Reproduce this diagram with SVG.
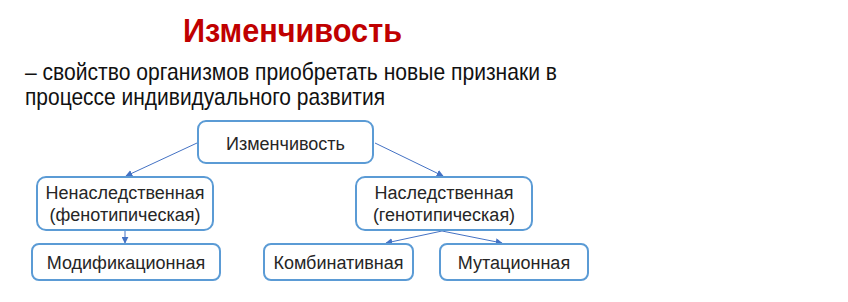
<svg xmlns="http://www.w3.org/2000/svg" width="848" height="302" viewBox="0 0 848 302">
<style>
.box{fill:#ffffff;stroke:#5B9BD5;stroke-width:2}
.lbl{font-family:"Liberation Sans",Arial,sans-serif;font-size:18px;fill:#262626;text-anchor:middle}
.body{font-family:"Liberation Sans",Arial,sans-serif;font-size:24px;fill:#111111}
.title{font-family:"Liberation Sans",Arial,sans-serif;font-size:33px;font-weight:bold;fill:#C00000;text-anchor:middle}
.con{stroke:#4472C4;stroke-width:1;fill:none;marker-end:url(#ah)}
</style>
<defs>
<marker id="ah" viewBox="0 0 10 10" refX="9" refY="5" markerWidth="7" markerHeight="7" markerUnits="userSpaceOnUse" orient="auto">
<path d="M0,0 L10,5 L0,10 z" fill="#4472C4"/>
</marker>
</defs>
<rect width="848" height="302" fill="#ffffff"/>
<text class="title" x="292.5" y="42" textLength="219" lengthAdjust="spacingAndGlyphs">Изменчивость</text>
<text class="body" x="25" y="80" textLength="532" lengthAdjust="spacingAndGlyphs">– свойство организмов приобретать новые признаки в</text>
<text class="body" x="25" y="105" textLength="360" lengthAdjust="spacingAndGlyphs">процессе индивидуального развития</text>
<g id="connectors">
<line class="con" x1="197" y1="143" x2="126" y2="176"/>
<line class="con" x1="375" y1="143" x2="443" y2="176"/>
<line class="con" x1="125" y1="231" x2="125" y2="243"/>
<line class="con" x1="442" y1="231" x2="386" y2="243"/>
<line class="con" x1="442" y1="231" x2="502" y2="243"/>
</g>
<g id="n-root">
<rect class="box" x="198" y="121" width="175" height="42" rx="8"/>
<text class="lbl" x="285.5" y="150">Изменчивость</text>
</g>
<g id="n-nonher">
<rect class="box" x="37" y="177" width="176" height="53" rx="9"/>
<text class="lbl" x="125" y="199">Ненаследственная</text>
<text class="lbl" x="125" y="221">(фенотипическая)</text>
</g>
<g id="n-her">
<rect class="box" x="356" y="177" width="176" height="53" rx="9"/>
<text class="lbl" x="444" y="199">Наследственная</text>
<text class="lbl" x="444" y="221">(генотипическая)</text>
</g>
<g id="n-mod">
<rect class="box" x="32" y="244" width="188" height="36" rx="7"/>
<text class="lbl" x="126" y="269">Модификационная</text>
</g>
<g id="n-comb">
<rect class="box" x="264" y="244" width="149" height="36" rx="7"/>
<text class="lbl" x="338.5" y="269">Комбинативная</text>
</g>
<g id="n-mut">
<rect class="box" x="440" y="244" width="148" height="36" rx="7"/>
<text class="lbl" x="514" y="269">Мутационная</text>
</g>
</svg>
